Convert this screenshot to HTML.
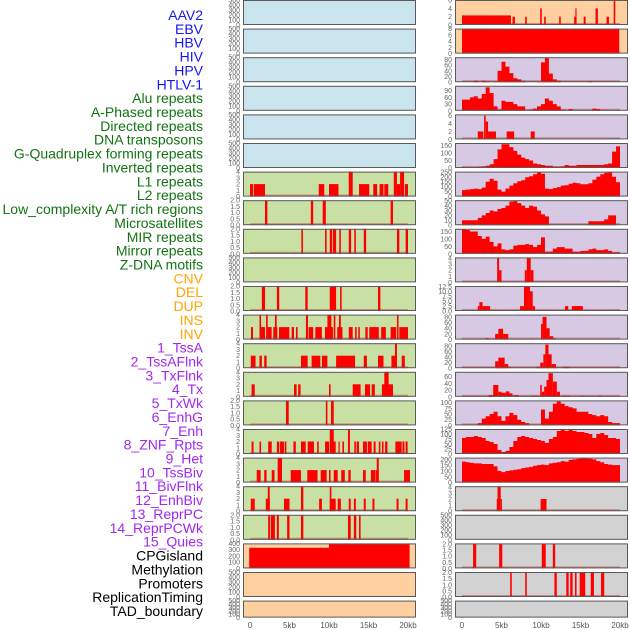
<!DOCTYPE html>
<html><head><meta charset="utf-8"><style>
html,body{margin:0;padding:0;background:#fff;}
svg{display:block;font-family:"Liberation Sans",sans-serif;}
</style></head><body>
<svg id="chart" width="630" height="630" viewBox="0 0 630 630"></svg>
<script>
// ---- data (kb coordinates / values) ----
const trackLabels=["AAV2","EBV","HBV","HIV","HPV","HTLV-1","Alu repeats","A-Phased repeats","Directed repeats","DNA transposons","G-Quadruplex forming repeats","Inverted repeats","L1 repeats","L2 repeats","Low_complexity A/T rich regions","Microsatellites","MIR repeats","Mirror repeats","Z-DNA motifs","CNV","DEL","DUP","INS","INV","1_TssA","2_TssAFlnk","3_TxFlnk","4_Tx","5_TxWk","6_EnhG","7_Enh","8_ZNF_Rpts","9_Het","10_TssBiv","11_BivFlnk","12_EnhBiv","13_ReprPC","14_ReprPCWk","15_Quies","CPGisland","Methylation","Promoters","ReplicationTiming","TAD_boundary"];
const xTickLabels=["0","5kb","10kb","15kb","20kb"];
const xTickValues=[0,5,10,15,20];
const ticks500=["0","100","200","300","400","500"];
const ticks4=["0","1","2","3","4"];
const ticks2=["0.0","0.5","1.0","1.5","2.0"];
// left column segments [startKb,endKb,value]
const L6=[[0,0.4,2],[0.5,1.9,2],[8.7,9.4,2],[10,11.2,2],[12.5,13,4],[13.8,15.1,2],[15.6,16.1,2],[16.4,16.9,2],[17,17.5,2],[18.2,18.6,4],[18.6,19,2],[19,19.5,4],[19.6,20,2]];
const L7=[[1.9,2.2,2],[7.7,8.0,2],[9.2,9.6,2],[17.8,18.1,2]];
const L8=[[6.5,6.7,2],[9.5,9.7,2],[10.1,10.4,2],[10.5,10.9,2],[11.3,11.5,2],[12.5,12.8,2],[13.2,13.4,2],[14.4,14.7,2],[18.6,18.9,2],[19.7,20,2]];
const L10=[[1.5,1.9,2],[3.4,3.7,2],[7.0,7.3,2],[10.1,10.9,2],[11.4,11.6,2],[16.2,16.5,2]];
const L11=[[0.13,0.38,2],[1.2,1.9,2],[1.2,1.4,4],[2.03,2.24,4],[2.24,2.74,2],[2.95,3.46,2],[3.16,3.38,4],[3.67,4.98,2],[5.27,5.57,2],[5.82,6.03,2],[7.08,7.34,4],[7.42,8.0,2],[8.27,9.1,2],[9.49,10.5,2],[9.8,10.3,4],[10.6,10.8,4],[11.05,11.7,2],[11.26,11.5,4],[12.5,13.0,2],[13.3,13.5,2],[13.7,13.9,2],[14.6,14.9,2],[15.1,16.3,2],[16.6,17.2,2],[17.8,18.5,2],[18.6,18.8,4],[18.9,20.0,2]];
const L12=[[0.1,0.7,2],[1.2,1.5,2],[1.8,2.1,2],[6.45,7.3,2],[7.8,8.9,2],[9.1,9.8,2],[10.9,13.3,2],[14.4,14.8,2],[16.2,16.9,2],[17.9,18.6,2],[18.35,18.6,4],[19.2,19.6,2]];
const L13=[[0.2,0.6,2],[5.57,5.9,2],[6.1,6.4,2],[10.0,10.2,2],[13.0,14.0,2],[14.55,15.2,2],[15.4,15.8,2],[16.7,18.1,2],[17.0,17.55,4]];
const L14=[[4.55,4.9,2],[9.6,9.8,2],[10.25,10.6,2]];
const L15=[[0.2,0.45,2],[1.2,1.4,2],[2.3,2.75,2],[3.4,3.7,2],[3.8,4.3,2],[4.4,4.6,2],[5.5,5.8,2],[6.45,7.05,2],[7.3,8.1,2],[8.5,8.7,2],[9.5,10.0,2],[10.1,10.85,2],[10.1,10.6,4],[11.2,11.35,2],[11.7,11.9,2],[12.4,12.65,4],[13.2,13.4,2],[13.5,13.8,2],[14.3,14.8,2],[14.9,15.4,2],[15.65,15.9,2],[16.3,16.5,2],[16.7,16.9,2],[17.1,17.4,2],[18.4,19.2,2],[19.3,19.55,2],[19.7,19.95,2]];
const L16=[[0.85,1.35,2],[1.8,2.1,2],[2.75,3.1,2],[3.5,4.05,4],[5.15,6.45,2],[7.25,8.55,2],[8.95,9.7,2],[10.0,10.2,2],[10.6,11.1,2],[11.55,12.0,2],[12.45,12.75,2],[14.3,14.65,2],[15.3,15.9,2],[15.95,16.3,2],[16.05,16.3,4],[19.5,20.25,2]];
const L17=[[0.1,0.6,2],[2.0,2.5,2],[2.25,2.5,4],[4.3,5.0,2],[6.45,6.75,4],[8.75,9.1,2],[10.1,10.3,4],[10.1,10.85,2],[11.1,11.5,2],[12.5,12.75,2],[13.15,13.4,2],[14.4,14.65,2],[15.5,15.75,2],[18.55,18.8,2],[19.7,19.95,2]];
const L18=[[2.3,2.55,2],[2.65,3.15,2],[3.4,3.65,2],[4.7,5.0,2],[6.45,6.75,2],[12.4,12.75,2],[13.15,13.45,2],[13.8,14.0,2]];
const L19=[[-0.1,10.0,330],[10.0,20.2,390]];
// right column
const R0=[[0,6.2,2.3],[6.4,6.7,2],[8.0,8.2,2],[9.9,10.1,4],[10.4,10.6,2],[12.3,12.5,2],[14.2,14.5,2],[14.35,14.5,4],[15.4,15.65,2],[16.9,17.2,4],[18.3,18.6,2],[19.2,19.4,6]];
const R1=[[0,19.9,8]];
const R4=[[2.0,2.7,2],[2.8,3.0,6],[3.0,3.3,4.5],[3.3,4.3,2],[5.65,6.6,2],[8.7,9.2,2]];
const R9=[[4.45,4.7,4],[4.7,5.0,2],[7.95,8.2,2],[8.2,8.7,4],[8.7,9.05,2]];
const R10=[[2.0,2.2,2.5],[2.2,2.6,4.5],[2.6,3.55,2.5],[7.35,7.85,2.5],[7.85,8.6,12.5],[8.6,8.95,10],[8.95,9.25,2.5],[13.05,13.45,2.5],[13.9,15.3,2.5]];
const R11=[[2.95,3.4,5],[4.2,4.6,20],[4.6,5.2,38],[5.2,5.85,20],[10.0,10.2,55],[10.2,10.7,80],[10.7,11.1,40],[11.1,11.55,12],[11.55,11.85,5]];
const R12=[[4.2,4.6,25],[4.6,5.4,38],[5.4,5.85,15],[5.85,6.15,5],[9.45,9.9,5],[9.9,10.3,20],[10.3,10.55,50],[10.55,10.95,85],[10.95,11.35,50],[11.35,11.9,15],[12.8,13.6,5]];
const R13=[[3.35,3.95,5],[3.95,4.6,35],[4.6,5.0,15],[5.0,5.55,12],[5.55,6.0,16],[6.0,6.4,10],[6.5,7.2,5],[8.8,9.9,3],[9.9,10.1,35],[10.1,10.4,15],[10.4,10.7,30],[10.7,10.95,50],[10.95,11.5,70],[11.5,12.0,45],[12.0,12.4,15],[12.6,13.7,3],[15.1,15.4,3],[17.3,17.7,3]];
const R17=[[4.4,4.5,2],[4.5,4.9,4],[4.9,5.05,2],[9.95,10.7,2]];
const R19=[[1.4,1.8,2],[4.7,5.1,2],[10.1,10.6,2],[11.5,11.8,2]];
const R20=[[6.1,6.3,2],[8.0,8.2,2],[11.7,12.0,2],[13.2,13.5,2],[13.7,14.0,2],[14.3,14.5,2],[14.9,15.6,2],[16.3,16.7,2],[17.6,18.0,2]];
// right column 0.5kb bins (bin i covers i*0.5..i*0.5+0.5)
const R2=[0,0,0,5,0,5,3,0,3,40,72,55,32,14,10,5,0,0,0,3,70,85,30,10,5,0,0,0,0,0,0,0,4,0,0,0,0,0,0,0];
const R3=[50,50,60,65,55,75,105,80,20,5,45,40,40,30,20,20,0,5,10,20,30,55,45,30,20,5,0,8,0,0,0,0,0,10,8,0,0,0,0,0];
const R5=[5,5,5,5,8,10,15,25,60,125,160,160,140,115,90,70,60,50,30,25,20,15,15,8,8,10,20,15,15,20,20,20,20,20,20,20,25,30,110,145];
const R6=[65,70,75,80,75,90,150,180,160,70,50,80,110,135,155,165,195,205,225,245,230,80,75,85,95,110,115,130,140,135,125,125,135,170,200,225,240,245,200,145];
const R7=[10,10,10,10,15,20,25,30,28,33,35,40,48,50,45,40,35,40,38,30,22,18,0,0,0,0,0,0,0,0,0,0,8,8,8,8,12,20,20,0];
const R8=[165,160,150,150,120,100,115,80,50,70,30,25,30,55,60,60,65,60,45,60,110,15,15,35,45,45,35,35,15,15,20,20,30,35,25,25,30,20,10,10];
const R14=[0,0,0,0,10,30,40,50,60,40,20,40,55,45,25,15,10,0,0,0,70,30,60,95,105,95,85,80,75,60,60,60,50,45,40,45,40,15,10,10];
const R15=[80,85,85,90,85,80,65,60,50,20,10,15,35,65,85,90,85,80,75,70,65,55,75,85,115,120,115,120,115,110,110,105,100,80,100,105,95,80,80,75];
const R16=[180,175,170,165,165,160,160,160,140,100,90,100,105,110,115,125,130,135,145,150,155,150,165,170,175,185,180,195,200,205,210,210,205,200,185,175,160,155,150,150];

// ---- panel configuration ----
const BLUE="#c9e4ec",GREEN="#c8e0a4",ORANGE="#fed0a0",PURPLE="#d7c8e3",GRAY="#d2d2d2";
const panels=[];
for(let r=0;r<6;r++)panels.push({col:0,row:r,bg:BLUE,max:500,ticks:ticks500});
const greenData={6:[L6,4],7:[L7,2],8:[L8,2],9:[null,500],10:[L10,2],11:[L11,4],12:[L12,4],13:[L13,4],14:[L14,2],15:[L15,4],16:[L16,4],17:[L17,4],18:[L18,2]};
for(let r=6;r<=18;r++){const g=greenData[r];panels.push({col:0,row:r,bg:GREEN,max:g[1],ticks:g[1]==500?ticks500:g[1]==4?ticks4:ticks2,segs:g[0]});}
panels.push({col:0,row:19,bg:ORANGE,max:400,ticks:["0","100","200","300","400"],segs:L19});
panels.push({col:0,row:20,bg:ORANGE,max:500,ticks:ticks500});
panels.push({col:0,row:21,bg:ORANGE,max:500,ticks:ticks500});
panels.push({col:1,row:0,bg:ORANGE,max:6,ticks:["0","2","4","6"],segs:R0});
panels.push({col:1,row:1,bg:ORANGE,max:8,ticks:["0","2","4","6","8"],segs:R1});
panels.push({col:1,row:2,bg:PURPLE,max:88,ticks:["0","20","40","60","80"],bins:R2});
panels.push({col:1,row:3,bg:PURPLE,max:112,ticks:["0","30","60","90"],bins:R3});
panels.push({col:1,row:4,bg:PURPLE,max:6.3,ticks:["0","2","4","6"],segs:R4});
panels.push({col:1,row:5,bg:PURPLE,max:168,ticks:["0","50","100","150"],bins:R5});
panels.push({col:1,row:6,bg:PURPLE,max:252,ticks:["0","50","100","150","200","250"],bins:R6});
panels.push({col:1,row:7,bg:PURPLE,max:51,ticks:["0","10","20","30","40","50"],bins:R7});
panels.push({col:1,row:8,bg:PURPLE,max:168,ticks:["0","50","100","150"],bins:R8});
panels.push({col:1,row:9,bg:PURPLE,max:4.1,ticks:["0","1","2","3","4"],segs:R9});
panels.push({col:1,row:10,bg:PURPLE,max:12.7,ticks:["0.0","2.5","5.0","7.5","10.0","12.5"],segs:R10});
panels.push({col:1,row:11,bg:PURPLE,max:88,ticks:["0","20","40","60","80"],segs:R11});
panels.push({col:1,row:12,bg:PURPLE,max:90,ticks:["0","20","40","60","80"],segs:R12});
panels.push({col:1,row:13,bg:PURPLE,max:74,ticks:["0","20","40","60"],segs:R13});
panels.push({col:1,row:14,bg:PURPLE,max:110,ticks:["0","25","50","75","100"],bins:R14});
panels.push({col:1,row:15,bg:PURPLE,max:125,ticks:["0","25","50","75","100","125"],bins:R15});
panels.push({col:1,row:16,bg:PURPLE,max:215,ticks:["0","50","100","150","200"],bins:R16});
panels.push({col:1,row:17,bg:GRAY,max:4.1,ticks:["0","1","2","3","4"],segs:R17});
panels.push({col:1,row:18,bg:GRAY,max:500,ticks:ticks500});
panels.push({col:1,row:19,bg:GRAY,max:2.05,ticks:ticks2,segs:R19});
panels.push({col:1,row:20,bg:GRAY,max:2.05,ticks:ticks2,segs:R20});
panels.push({col:1,row:21,bg:GRAY,max:500,ticks:ticks500});

const NS="http://www.w3.org/2000/svg";
const svg=document.getElementById('chart');
function mk(tag,attrs,parent){const e=document.createElementNS(NS,tag);for(const k in attrs)e.setAttribute(k,attrs[k]);(parent||svg).appendChild(e);return e;}
const PL=[243,455],PW=173,X0=[250,462],PXKB=7.9;
function xScale(col,kb){return X0[col]+kb*PXKB;}
function panelTop(row){return row*28.6;}
function panelH(row){return row==21?17:25;}

// labels
trackLabels.forEach((t,i)=>{
  let c=i<6?"#1616f0":i<19?"#137313":i<24?"#ffa500":i<39?"#a128ee":"#000";
  const el=mk('text',{x:203,y:20+i*13.86,'text-anchor':'end','font-size':14,fill:c});
  el.textContent=t;
  
  
});

panels.forEach(p=>{
  const top=panelTop(p.row),h=panelH(p.row),bot=top+h;
  const g=mk('g',{});
  
  
  const bg=mk('rect',{x:PL[p.col],y:top,width:PW,height:h,fill:p.bg},g);
  
  
  const yS=v=>bot-v/p.max*h;
  const hasData=p.segs||p.bins;
  if(hasData){
    const bl=mk('rect',{x:xScale(p.col,0),y:bot-2,width:20*PXKB,height:2,fill:'rgba(190,40,40,0.45)'},g);
    
    
  }
  if(p.segs)p.segs.forEach(s=>{
    const x1=xScale(p.col,s[0]),x2=xScale(p.col,s[1]),y=yS(Math.min(s[2],p.max));
    const b=mk('rect',{x:x1,y:y,width:Math.max(1,x2-x1),height:bot-y,fill:'#ff0000'},g);
    
    
  });
  if(p.bins){
    let d='M'+xScale(p.col,0)+','+bot;
    p.bins.forEach((v,i)=>{const y=yS(Math.min(v,p.max));d+=' L'+xScale(p.col,i*0.5)+','+y+' L'+xScale(p.col,i*0.5+0.5)+','+y;});
    d+=' L'+xScale(p.col,20)+','+bot+' Z';
    const a=mk('path',{d:d,fill:'#ff0000'},g);
    
    
  }
  const fr=mk('rect',{x:PL[p.col]+0.5,y:top+0.5,width:PW-1,height:h-1,fill:'none',stroke:'#5a5a5a','stroke-width':1},g);
  
  
  const n=p.ticks.length;
  p.ticks.forEach((t,i)=>{
    const v=parseFloat(t);
    const tx=mk('text',{x:PL[p.col]-3,y:yS(v)+2.5,'text-anchor':'end','font-size':7,fill:'#666'},g);
    tx.textContent=t;
    
    
  });
});

// x axes
[0,1].forEach(col=>{
  xTickValues.forEach((v,i)=>{
    const t=mk('text',{x:xScale(col,v),y:628,'text-anchor':'middle','font-size':8,fill:'#555'});
    t.textContent=xTickLabels[i];
    
    
  });
});
</script>
</body></html>
